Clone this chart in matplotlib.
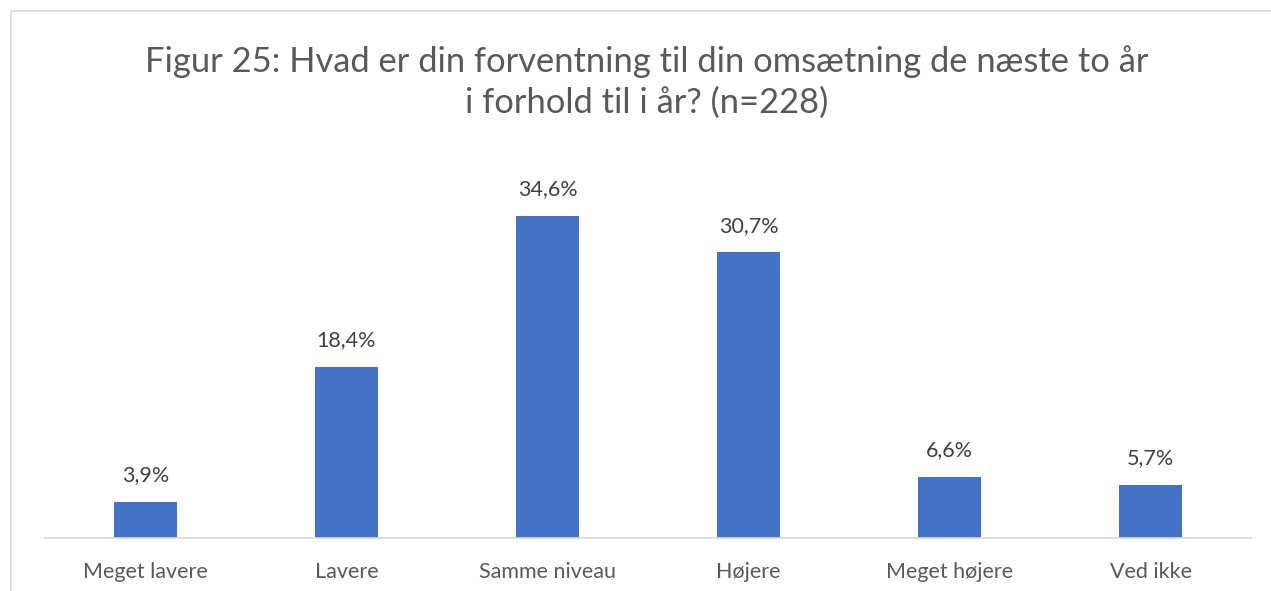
import matplotlib
matplotlib.use("Agg")
import matplotlib.pyplot as plt
from matplotlib.patches import Rectangle

categories = ["Meget lavere", "Lavere", "Samme niveau", "Højere", "Meget højere", "Ved ikke"]
values = [3.9, 18.4, 34.6, 30.7, 6.6, 5.7]
labels = ["3,9%", "18,4%", "34,6%", "30,7%", "6,6%", "5,7%"]
title = "Figur 25: Hvad er din forventning til din omsætning de næste to år\ni forhold til i år? (n=228)"

W, H = 1271, 591
fig = plt.figure(figsize=(W / 100, H / 100), dpi=100)
plt.rcParams['font.family'] = ['Lato', 'DejaVu Sans']

# chart border
fig.patches.append(Rectangle((11 / W, -0.1), 1.2, (H - 11) / H + 0.1, transform=fig.transFigure,
                             fill=False, edgecolor="#D9D9D9", linewidth=1.2))

ax_left, ax_right = 45 / W, 1251 / W
ax_bottom = (H - 538) / H
ax_top_px = 150
ax = fig.add_axes([ax_left, ax_bottom, ax_right - ax_left, (538 - ax_top_px) / H])
px_per_unit = 322 / 34.6
ax.set_ylim(0, (538 - ax_top_px) / px_per_unit)
ax.set_xlim(-0.5, len(categories) - 0.5)

x = range(len(categories))
ax.bar(x, values, width=0.315, color="#4472C4", zorder=2)
for xi, v, lab in zip(x, values, labels):
    ax.annotate(lab, (xi, v), xytext=(0, 12), textcoords="offset points",
                ha="center", va="bottom", fontsize=15.5, color="#404040")

ax.set_xticks(list(x))
ax.set_xticklabels(categories, fontsize=15.5, color="#595959")
ax.tick_params(axis="x", length=0, pad=17.5)
ax.set_yticks([])
for s in ["top", "right", "left"]:
    ax.spines[s].set_visible(False)
ax.spines["bottom"].set_color("#D9D9D9")
ax.spines["bottom"].set_linewidth(1.2)

fig.text(0.509, (H - 82) / H, title, ha="center", va="center", fontsize=24.8,
         color="#595959", linespacing=1.3)

fig.savefig("out.png", dpi=100)
